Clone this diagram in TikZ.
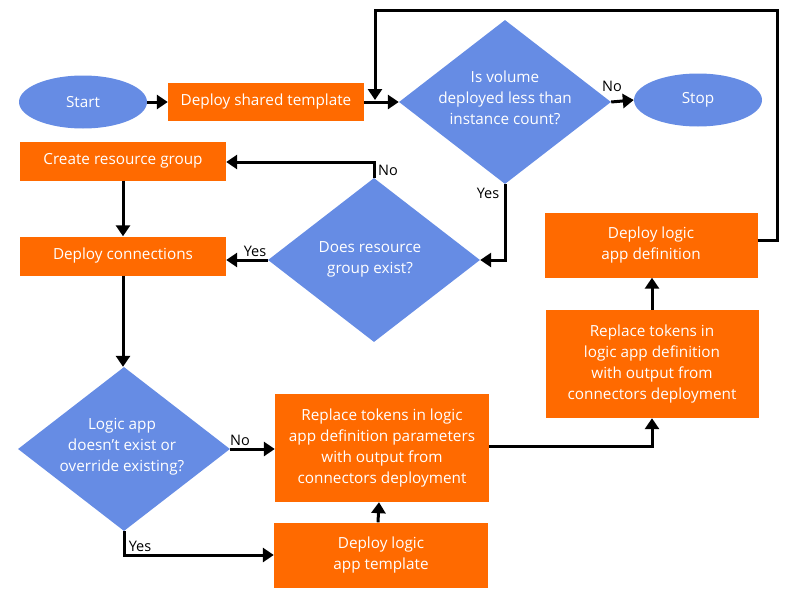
\documentclass[tikz,border=0pt]{standalone}
\usepackage{fontspec}
\setmainfont{Open Sans}
\usetikzlibrary{shapes.geometric,arrows.meta}
\definecolor{orng}{RGB}{255,106,0}
\definecolor{blu}{RGB}{102,140,228}
\tikzset{
  box/.style={fill=orng,draw=none,text=white,align=center,inner sep=0pt,font=\fontsize{15.3}{21}\selectfont},
  oval/.style={ellipse,fill=blu,draw=none,text=white,inner sep=0pt,minimum width=128pt,minimum height=53pt,font=\fontsize{15.3}{21}\selectfont},
  dia/.style={diamond,fill=blu,draw=none,inner sep=0pt,minimum width=212pt,minimum height=164pt},
  dtext/.style={text=white,align=center,font=\fontsize{15.3}{21}\selectfont},
  lab/.style={text=black,font=\fontsize{14.5}{16}\selectfont,inner sep=0pt},
  conn/.style={line width=3pt,-{Triangle[length=11pt,width=14pt]}},
  plain/.style={line width=3pt}
}
\begin{document}
\begin{tikzpicture}[x=1pt,y=-1pt]
\useasboundingbox (0,0) rectangle (800,610);
% nodes
\node[oval] (start) at (83,102) {Start};
\node[box,minimum width=196pt,minimum height=38pt] (shared) at (266,102) {Deploy shared template};
\node[dia] (d1) at (505,102) {};
\node[dtext] at (505,98) {Is volume\\deployed less than\\instance count?};
\node[oval] (stop) at (698,100) {Stop};
\node[box,minimum width=206pt,minimum height=39pt] (create) at (123,161) {Create resource group};
\node[dia] (d2) at (374,260) {};
\node[dtext] at (370,259) {Does resource\\group exist?};
\node[box,minimum width=206pt,minimum height=39pt] (dconn) at (123,256) {Deploy connections};
\node[dia] (d3) at (124,449) {};
\node[dtext] at (122,447) {Logic app\\doesn{\char"0027}t exist or\\override existing?};
\node[box,minimum width=214pt,minimum height=108pt] (rep1) at (382,448) {Replace tokens in logic\\app definition parameters\\with output from\\connectors deployment};
\node[box,minimum width=214pt,minimum height=65pt] (tmpl) at (381,555) {Deploy logic\\app template};
\node[box,minimum width=213pt,minimum height=108pt] (rep2) at (652,364) {Replace tokens in\\logic app definition\\with output from\\connectors deployment};
\node[box,minimum width=213pt,minimum height=65pt] (def) at (651,245) {Deploy logic\\app definition};
\coordinate (loopend) at (375,100);
% connectors
\draw[conn] (start) -- (shared);
\draw[conn] (shared) -- (d1.west);
\draw[conn] ([yshift=5pt]def.east) -| (777,11) -| (loopend);
\draw[conn] (d1.east) -- (stop.west);
\draw[conn] (d1.south) |- (d2.east);
\draw[conn] (d2.north) |- ([yshift=-1pt]create.east);
\draw[conn] (create) -- (dconn);
\draw[conn] (d2.west) -- (d2.west -| dconn.east);
\draw[conn] (dconn.south) -- (dconn.south |- d3.north);
\draw[conn] (d3.east) -- (d3.east -| rep1.west);
\draw[conn] (d3.south) |- (tmpl.west);
\draw[conn] ([xshift=-3pt]tmpl.north) -- ([xshift=-3pt]rep1.south);
\draw[conn] ([yshift=2pt]rep1.east) -| (rep2.south);
\draw[conn] (rep2.north) -- ([xshift=1pt]def.south);
% labels
\node[lab] at (612,86) {No};
\node[lab] at (488,193) {Yes};
\node[lab] at (388,170) {No};
\node[lab] at (255,251) {Yes};
\node[lab] at (240,440) {No};
\node[lab] at (140,546) {Yes};
\end{tikzpicture}
\end{document}
